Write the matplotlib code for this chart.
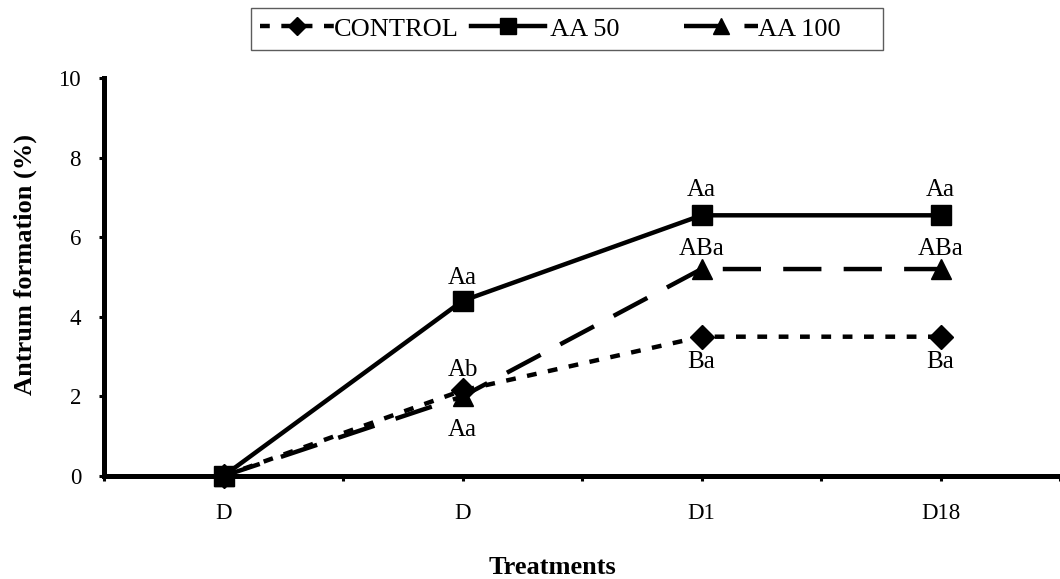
import matplotlib
matplotlib.use("Agg")
import matplotlib.pyplot as plt
from matplotlib.ticker import FixedLocator

plt.rcParams['font.family'] = ['Liberation Serif', 'DejaVu Serif']

categories = ["D", "D", "D1", "D18"]
control = [0, 2.15, 3.5, 3.5]
aa50 = [0, 4.4, 6.55, 6.55]
aa100 = [0, 2.0, 5.2, 5.2]
control_labels = [None, "Ab", "Ba", "Ba"]
aa50_labels = [None, "Aa", "Aa", "Aa"]
aa100_labels = [None, "Aa", "ABa", "ABa"]
y_ticks = [0, 2, 4, 6, 8, 10]

W, H = 1060, 579
fig = plt.figure(figsize=(W / 100, H / 100), dpi=100)
ax = fig.add_axes([104 / W, (H - 476) / H, 956 / W, 398 / H])

x = list(range(len(categories)))
lw = 3.2
l1, = ax.plot(x, control, color='black', lw=lw, linestyle=(0, (2.2, 2.6)),
              marker='D', markersize=12, dash_capstyle='butt', clip_on=False, zorder=3)
l2, = ax.plot(x, aa50, color='black', lw=lw, linestyle='-',
              marker='s', markersize=15, clip_on=False, zorder=4)
l3, = ax.plot(x, aa100, color='black', lw=lw, linestyle=(0, (8.6, 5.0)),
              marker='^', markersize=15, dash_capstyle='butt', clip_on=False, zorder=3)

fs_lab = 18
def put(vals, labs, offsets):
    for xi, v, t in zip(x, vals, labs):
        if t:
            ax.annotate(t, (xi, v), xytext=(0, offsets[xi]), textcoords='offset points',
                        ha='center', va='center', fontsize=fs_lab)

put(aa50, aa50_labels, [0, 16.5, 18.5, 18.5])
put(control, control_labels, [0, 14.5, -18, -18])
put(aa100, aa100_labels, [0, -24.5, 14.5, 14.5])

ax.set_xlim(-0.5, len(categories) - 0.5)
ax.set_ylim(0, 10)
ax.set_xticks(x)
ax.set_xticklabels(categories, fontsize=16.5)
ax.xaxis.set_minor_locator(FixedLocator([-0.5, 0.5, 1.5, 2.5, 3.5]))
ax.set_yticks(y_ticks)
ax.set_yticklabels([str(v) for v in y_ticks], fontsize=16.5)
ax.tick_params(axis='x', which='both', direction='out', length=3.5, width=2.2, pad=16)
ax.tick_params(axis='y', which='both', direction='out', length=3.5, width=2.2, pad=13)
for s in ['top', 'right']:
    ax.spines[s].set_visible(False)
for s in ['left', 'bottom']:
    ax.spines[s].set_linewidth(3.6)

fig.text(25 / W, 1 - 265 / H, "Antrum formation (%)", rotation=90, ha='center', va='center',
         fontsize=19, fontweight='bold')
fig.text(552 / W, 1 - 567 / H, "Treatments", ha='center', va='center',
         fontsize=19, fontweight='bold')

leg = fig.legend([l1, l2, l3], ["CONTROL", " AA 50        ", "AA 100     "], ncol=3,
                 loc='upper left', bbox_to_anchor=(251 / W, 1 - 8 / H), borderaxespad=0,
                 fontsize=19, frameon=True, fancybox=False, edgecolor='#333333',
                 handlelength=2.8, handletextpad=0.0, columnspacing=0.45,
                 borderpad=0.35, markerscale=0.8)
leg.get_frame().set_linewidth(1.0)

fig.savefig("out.png", dpi=100)
